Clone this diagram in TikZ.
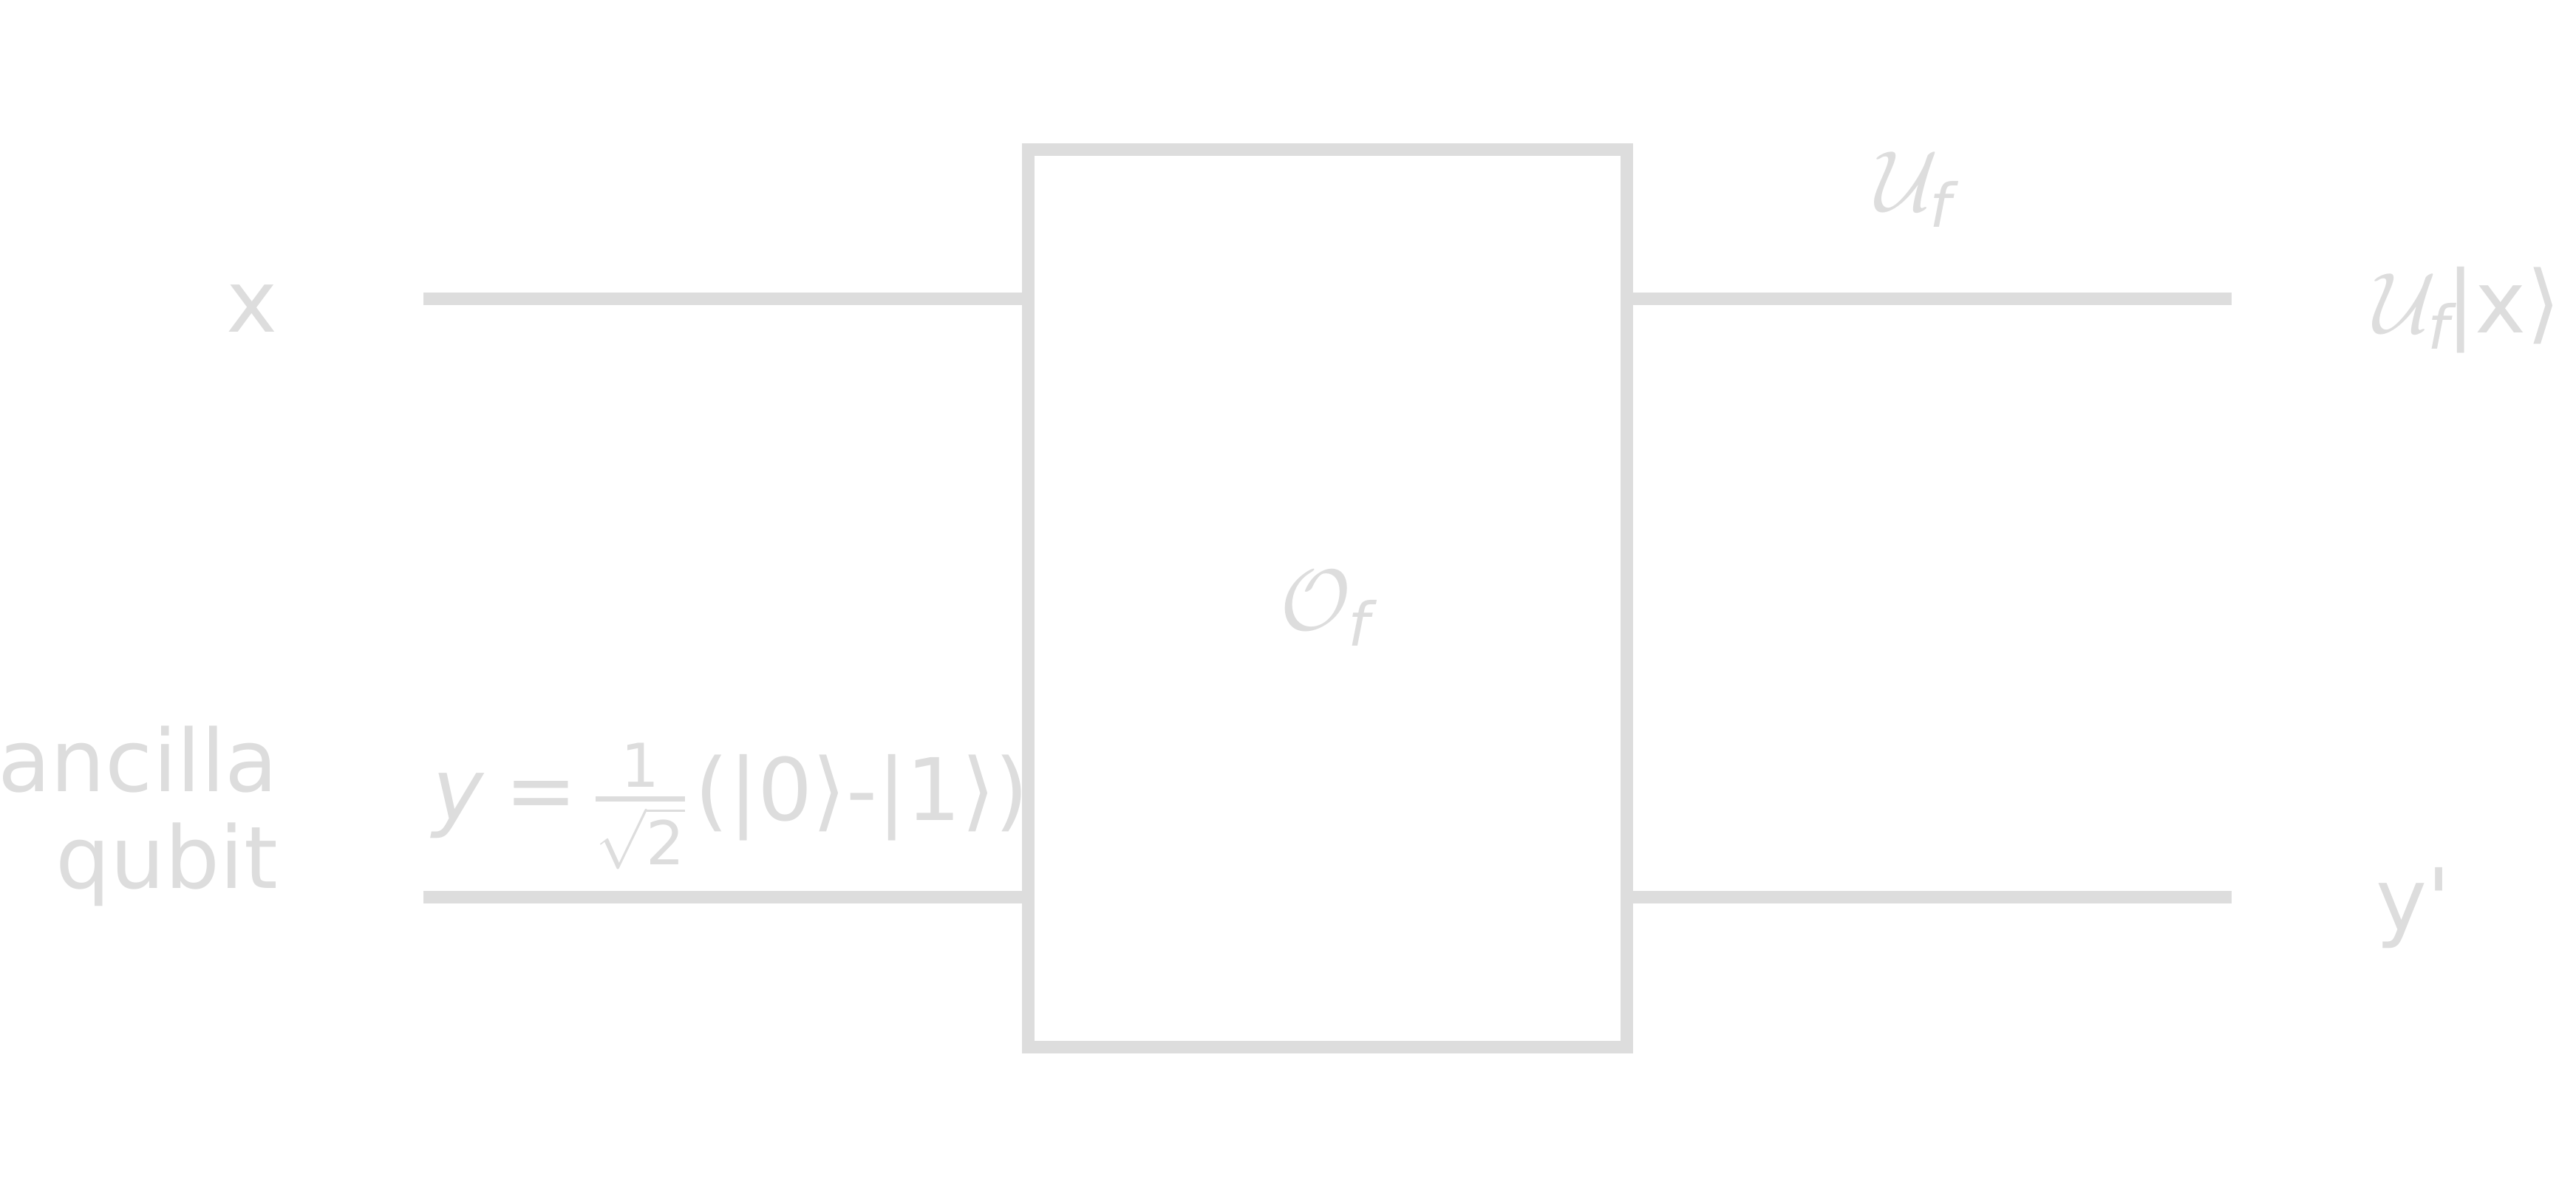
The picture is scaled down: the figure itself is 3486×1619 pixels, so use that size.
\RequirePackage{fix-cm}
\documentclass[tikz,border=0pt]{standalone}
\usepackage{amsmath}
\usepackage{fontspec}
\setmainfont{DejaVu Sans}
\definecolor{wiregray}{HTML}{DDDDDD}
\begin{document}
\begin{tikzpicture}[x=0.01cm,y=-0.01cm,
  wire/.style={line width=0.17cm, draw=wiregray},
  gatebox/.style={draw=wiregray, line width=0.17cm, minimum width=8.10cm, minimum height=12.15cm, inner sep=0pt, outer sep=0pt},
  lbl/.style={text=wiregray, inner sep=0pt, outer sep=0pt, font=\fontsize{33.2}{37.4}\selectfont}]
\useasboundingbox (0,0) rectangle (3486,1619);
% gate
\node[gatebox] (box) at (1796.5,810) {};
% wire end points
\coordinate (inx) at (573,404.5);
\coordinate (iny) at (573,1214.5);
\coordinate (outx) at (3020,404.5);
\coordinate (outy) at (3020,1214.5);
\draw[wire] (inx) -- (inx -| box.west);
\draw[wire] (iny) -- (iny -| box.west);
\draw[wire] (outx -| box.east) -- (outx);
\draw[wire] (outy -| box.east) -- (outy);
% labels
\node[lbl, anchor=base east] (lx) at (376,450) {x};
\node[lbl, anchor=base east, align=right] (lanc) at (376,1203) {ancilla\\qubit};
\node[lbl, anchor=base west] (lform) at (585,1111) {\textit{y}\hspace{0.28cm}=\hspace{0.21cm}$\genfrac{}{}{2pt}{1}{\text{1}}{\text{\raisebox{-0.18cm}{$\sqrt{\text{2}}$}}}$\hspace{0.10cm}(|0⟩-|1⟩)};
\node[lbl, anchor=base west] (lof) at (1732,853) {$\mathcal{O}_{\textit{f}}$};
\node[lbl, anchor=base west] (luf) at (2538,286) {$\mathcal{U}_{\textit{f}}$};
\node[lbl, anchor=base west] (lout1) at (3212,451) {$\mathcal{U}_{\textit{f}}$\hspace{-0.05cm}|x⟩};
\node[lbl, anchor=base west] (lout2) at (3215,1260) {y\textquotesingle};
\end{tikzpicture}
\end{document}
